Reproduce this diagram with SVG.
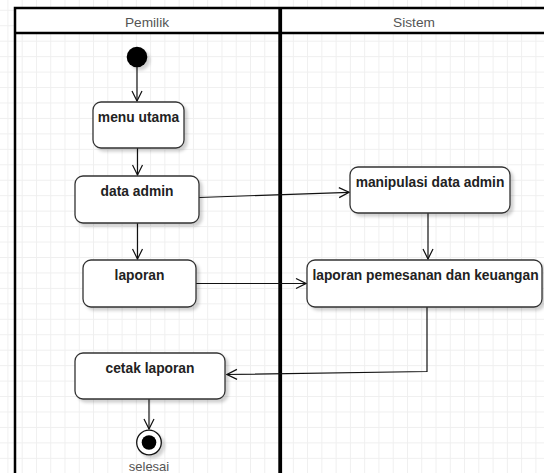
<svg xmlns="http://www.w3.org/2000/svg" width="544" height="473" viewBox="0 0 544 473">
  <style>
    .lane { fill: none; stroke: #000; stroke-width: 2.5; }
    .hdr { font-family: "Liberation Sans", Arial, sans-serif; font-size: 13.7px; fill: #555; text-anchor: middle; }
    .act rect { fill: #fff; stroke: #333; stroke-width: 1.3; filter: url(#sh); }
    .act text { font-family: "Liberation Sans", Arial, sans-serif; font-size: 13.8px; font-weight: bold; fill: #222; text-anchor: middle; }
    .conn path { fill: none; stroke: #111; stroke-width: 1.2; marker-end: url(#arr); }
    .lbl { font-family: "Liberation Sans", Arial, sans-serif; font-size: 13px; fill: #555; text-anchor: middle; }
  </style>
  <defs>
    <pattern id="grid" patternUnits="userSpaceOnUse" x="7.43" y="25.25" width="14.27" height="15.45">
      <rect x="0" y="0" width="1" height="15.45" fill="#efefef"/>
      <rect x="0" y="0" width="14.27" height="1" fill="#efefef"/>
    </pattern>
    <filter id="sh" x="-20%" y="-20%" width="150%" height="160%">
      <feDropShadow dx="3" dy="3" stdDeviation="1.5" flood-color="#000" flood-opacity="0.18"/>
    </filter>
    <marker id="arr" viewBox="0 0 12 12" refX="11" refY="6" markerWidth="12" markerHeight="12" markerUnits="userSpaceOnUse" orient="auto">
      <path d="M1 1 L11 6 L1 11" fill="none" stroke="#111" stroke-width="1.2"/>
    </marker>
  </defs>

  <rect width="544" height="473" fill="#fff"/>
  <rect width="544" height="473" fill="url(#grid)"/>

  <g id="lanes">
    <rect x="15" y="8" width="540" height="25" fill="#fff"/>
    <path class="lane" d="M15 480 V8 H550 M15 33 H550"/>
    <rect x="278.3" y="8" width="3.8" height="470" fill="#000"/>
    <text class="hdr" x="147" y="27">Pemilik</text>
    <text class="hdr" x="414" y="27">Sistem</text>
  </g>

  <g id="connectors" class="conn">
    <path d="M137 67 V101"/>
    <path d="M137.5 148 V175"/>
    <path d="M137.5 223 V259"/>
    <path d="M199 197.5 L349 192.3"/>
    <path d="M428 213 V259"/>
    <path d="M196 283.5 H306"/>
    <path d="M427 307 V371.5 L227 374.5"/>
    <path d="M149 399 V429"/>
  </g>

  <g id="start">
    <circle cx="137" cy="57" r="10.3" fill="#000" filter="url(#sh)"/>
  </g>

  <g id="menu-utama" class="act">
    <rect x="93" y="102" width="91" height="46" rx="8"/>
    <text x="138.5" y="121.5">menu utama</text>
  </g>

  <g id="data-admin" class="act">
    <rect x="75" y="176" width="124" height="47" rx="8"/>
    <text x="137" y="196">data admin</text>
  </g>

  <g id="laporan" class="act">
    <rect x="83" y="260" width="113" height="47" rx="8"/>
    <text x="139.5" y="279.5">laporan</text>
  </g>

  <g id="manipulasi-data-admin" class="act">
    <rect x="350" y="167" width="160" height="46" rx="8"/>
    <text x="430" y="186.5">manipulasi data admin</text>
  </g>

  <g id="laporan-pemesanan" class="act">
    <rect x="307" y="260" width="235" height="47" rx="8"/>
    <text x="425.5" y="279.5">laporan pemesanan dan keuangan</text>
  </g>

  <g id="cetak-laporan" class="act">
    <rect x="75" y="353" width="150" height="46" rx="8"/>
    <text x="150" y="372.5">cetak laporan</text>
  </g>

  <g id="selesai">
    <circle cx="149" cy="442.5" r="12.3" fill="#fff" stroke="#111" stroke-width="1.3" filter="url(#sh)"/>
    <circle cx="149" cy="442.5" r="7.3" fill="#000"/>
    <text class="lbl" x="149" y="471">selesai</text>
  </g>
</svg>
